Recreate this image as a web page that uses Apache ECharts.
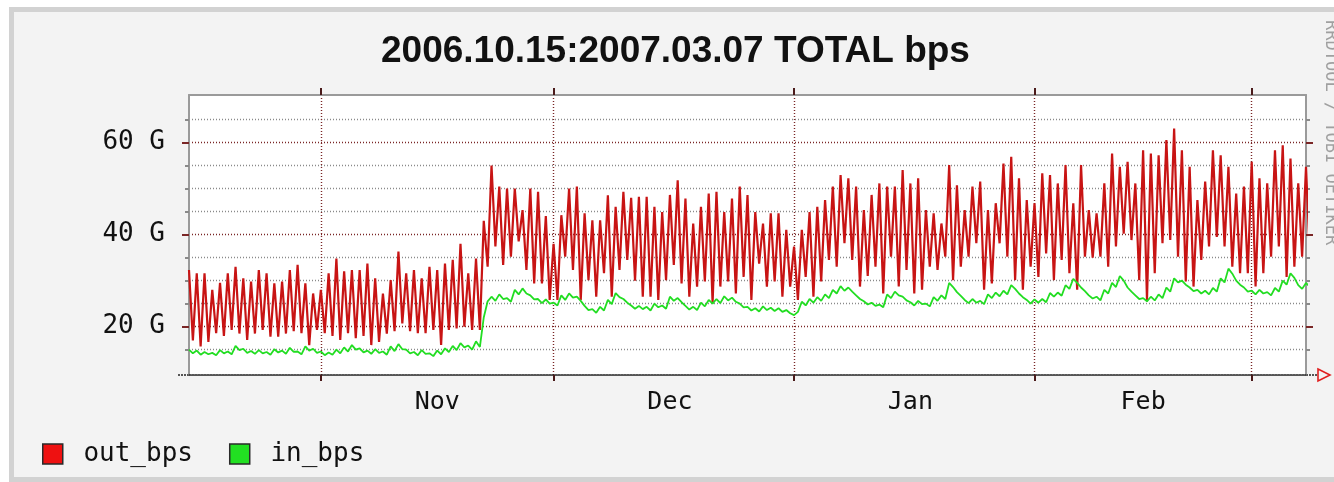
<!DOCTYPE html>
<html><head><meta charset="utf-8">
<script src="https://cdn.jsdelivr.net/npm/echarts@6/dist/echarts.min.js"></script>
<style>html,body{margin:0;padding:0;background:#fff}#c{width:1334px;height:482px}</style>
</head><body><div id="c"></div>
<script>
// ---- data (daily [peak, trough] in G bits/s), one row per day from 2006-10-15 ----
const startDate = '2006-10-15';
const endDate = '2007-03-08';
const outDays = [
 [32.3,17.0],[31.6,15.7],[31.6,16.7],[28.0,18.6],[29.5,18.0],[31.6,19.3],[33.0,18.5],[30.5,17.1],[29.8,18.5],[32.3,19.3],
 [31.6,17.8],[29.4,17.8],[29.8,18.5],[32.3,19.0],[33.4,18.6],[29.4,16.0],[27.2,19.3],[28.0,18.6],[31.6,18.0],[34.8,17.1],
 [32.0,18.6],[32.3,17.5],[32.3,18.0],[33.7,16.0],[30.5,16.7],[27.2,18.5],[30.1,19.0],[36.3,20.7],[31.6,19.0],[32.3,18.6],
 [30.5,18.6],[33.0,19.3],[32.3,16.0],[33.7,19.3],[34.5,19.6],[38.0,20.0],[31.6,19.3],[34.8,19.3],[43.0,33.0],[55.0,37.4],
 [50.4,33.4],[50.0,35.2],[50.0,38.5],[45.3,32.3],[50.0,29.4],[49.3,29.4],[44.0,25.8],[38.0,25.8],[44.2,35.2],[50.0,32.3],
 [50.4,25.8],[44.6,30.1],[43.1,26.5],[43.1,31.6],[48.5,26.5],[46.0,32.3],[49.3,34.5],[48.0,30.0],[48.2,26.5],[48.2,26.5],
 [46.0,25.8],[44.9,30.1],[48.6,33.4],[51.8,29.4],[47.8,26.5],[42.4,28.7],[46.0,29.8],[48.9,25.1],[49.3,28.7],[44.9,29.8],
 [47.8,27.2],[50.4,30.8],[48.6,25.8],[44.9,33.7],[42.4,28.7],[44.6,29.8],[44.6,26.5],[41.0,28.7],[37.4,25.8],[41.0,30.8],
 [44.9,26.5],[46.0,29.8],[47.5,34.5],[50.4,33.0],[52.9,38.1],[52.2,34.5],[50.4,28.7],[45.3,31.0],[48.6,33.0],[51.1,27.2],
 [50.4,35.2],[50.4,28.7],[54.0,32.3],[51.1,27.2],[52.2,28.0],[45.3,33.0],[44.6,32.3],[42.4,35.2],[55.1,30.1],[50.7,33.0],
 [45.3,35.2],[50.4,38.1],[51.5,28.0],[45.3,29.4],[46.8,38.1],[55.4,35.2],[56.9,30.1],[52.2,28.0],[47.5,33.0],[46.8,30.8],
 [53.3,35.9],[52.9,30.1],[51.1,34.5],[55.1,31.6],[46.8,28.0],[55.1,35.2],[45.3,35.0],[44.6,35.2],[51.1,33.0],[57.6,37.4],
 [54.7,40.2],[55.8,38.8],[51.1,30.1],[58.3,25.8],[57.6,31.6],[57.2,38.1],[60.5,38.8],[63.0,35.2],[58.3,29.8],[54.7,28.7],
 [47.5,34.5],[51.5,37.4],[58.3,39.5],[57.2,37.4],[54.7,33.0],[48.9,31.6],[50.4,31.6],[55.8,28.7],[52.2,31.6],[51.1,35.2],
 [58.3,37.4],[59.4,30.8],[56.5,33.0],[51.1,35.2],[54.7,35.2]
];
const inDays = [
 [15.0,14.2],[14.8,13.9],[14.5,14.0],[14.3,13.8],[14.9,14.2],[14.6,14.0],[15.8,14.9],[15.2,14.3],[14.7,14.1],[14.9,14.2],
 [14.5,13.9],[15.1,14.4],[14.8,14.1],[15.4,14.5],[14.6,14.0],[15.7,14.8],[15.2,14.3],
 [14.6,13.8],[14.4,13.9],[15.0,14.2],[15.5,14.6],[16.0,15.0],[15.3,14.4],[14.8,14.1],[15.1,14.3],[14.6,13.9],[15.7,14.7],
 [16.2,15.1],[15.0,14.2],[14.5,13.8],[14.9,14.1],[14.2,13.6],[14.8,14.0],[15.3,14.5],[15.8,14.9],[16.4,15.5],[15.9,15.0],[16.8,15.6],
 [22.0,25.5],
 [26.5,25.6],[27.0,26.0],[26.2,25.4],[28.0,27.0],[28.3,27.2],[26.8,25.9],[26.0,25.1],[25.9,25.0],
 [25.2,24.6],[26.8,25.8],[27.2,26.3],[26.5,25.6],[24.5,23.6],[23.8,23.0],[24.3,23.5],[25.8,24.9],[27.3,26.4],[26.0,25.2],[24.6,23.9],
 [24.5,23.8],[24.3,23.5],[25.0,24.2],[24.6,23.9],[26.5,25.6],[26.2,25.3],[24.5,23.7],[24.3,23.6],[25.2,24.4],[25.8,25.0],
 [26.0,25.1],[26.6,25.7],[26.3,25.4],[25.0,24.2],[24.3,23.5],[24.0,23.3],[24.4,23.6],[24.1,23.4],[24.0,23.2],[23.6,22.9],
 [22.5,23.2],[25.4,24.6],[26.0,25.2],[26.4,25.6],[27.0,26.2],[28.0,27.2],[28.8,27.8],[28.5,27.6],[26.8,26.0],[25.5,24.8],
 [25.2,24.5],[24.8,24.2],[27.0,26.2],[27.6,26.8],[26.5,25.7],[25.3,24.6],[25.6,24.9],[25.0,24.4],[26.4,25.6],[26.8,26.0],
 [29.5,28.6],[27.5,26.7],[25.8,25.1],[26.0,25.2],[25.6,24.9],[27.0,26.2],[27.4,26.6],[27.8,27.0],[29.0,28.2],[27.2,26.4],
 [25.8,25.0],[25.9,25.2],[26.0,25.3],[27.3,26.5],[27.4,26.7],[29.0,28.2],[30.4,29.5],[28.5,27.7],[26.8,26.1],
 [26.5,25.7],[28.0,27.2],[29.5,28.6],[31.0,30.0],[28.5,27.6],[26.8,26.0],[26.2,25.5],[26.5,25.7],[27.0,26.2],[28.5,27.6],
 [30.5,29.6],[30.0,29.1],[28.5,27.7],[28.0,27.2],[27.8,27.0],[28.4,27.6],[30.5,29.6],[32.6,31.5],[30.0,29.1],[28.5,27.6],
 [27.8,27.0],[28.0,27.2],[27.5,26.8],[28.4,27.6],[30.0,29.1],[31.6,30.6],[29.0,28.2],[29.5,28.6]
];
const monthGridDates = ['2006-11-01','2006-12-01','2007-01-01','2007-02-01','2007-03-01'];
const monthLabelDates = ['2006-11-16','2006-12-16','2007-01-16','2007-02-15'];
const monthLabels = ['Nov','Dec','Jan','Feb'];
const yMajorTicks = [20,40,60];
const yMinorTicks = [15,25,30,35,45,50,55,65];
const titleText = '2006.10.15:2007.03.07 TOTAL bps';

// ---- build ----
const DAY = 86400000;
const ts = s => Date.parse(s + 'T00:00:00Z');
const t0 = ts(startDate);
function flatten(rows){
  const out = [];
  rows.forEach((r,i)=>{ out.push([t0 + i*DAY, r[0]]); out.push([t0 + i*DAY + DAY/2, r[1]]); });
  return out;
}
const outData = flatten(outDays);
const inData = flatten(inDays);
const gridTs = monthGridDates.map(ts);
const labelTs = monthLabelDates.map(ts);
const yMin = 9.5, yMax = 70.3;
const MONO = 'DejaVu Sans Mono';
const majorCol = '#7a2626';
const minorCol = '#8a8a8a';

const chart = echarts.init(document.getElementById('c'), null, {renderer:'canvas'});
const baseY = {type:'value', min:yMin, max:yMax};
const baseX = {type:'value', min:t0, max:ts(endDate)};
chart.setOption({
  animation:false,
  backgroundColor:'#f3f3f3',
  title:{text:titleText, left:376, top:28,
    textStyle:{fontFamily:'Liberation Sans', fontWeight:'bold', fontSize:37, color:'#111'}},
  grid:{left:189, right:28, top:95, bottom:107, show:true, backgroundColor:'#ffffff', borderWidth:0},
  legend:{left:42, top:441, padding:0, icon:'rect', itemWidth:20, itemHeight:20, itemGap:36,
    formatter:' {name}',
    itemStyle:{borderColor:'#2a2a2a', borderWidth:1.5},
    textStyle:{fontFamily:MONO, fontSize:26, color:'#111'}},
  xAxis:[
    Object.assign({}, baseX, {position:'bottom',
     axisLine:{show:true, lineStyle:{color:'#222', width:1.5, type:[2,1]}},
     axisTick:{show:true, customValues:gridTs, length:6, lineStyle:{color:'#4a1a1a', width:2}},
     axisLabel:{show:true, customValues:labelTs, margin:15,
       formatter:v=>{ const i = labelTs.indexOf(v); return i>=0 ? monthLabels[i] : ''; },
       fontFamily:MONO, fontSize:25, color:'#111'},
     splitLine:{show:true, lineStyle:{color:majorCol, width:1.4, type:[1,2]}}}),
    Object.assign({}, baseX, {position:'top',
     axisLine:{show:true, lineStyle:{color:'#9a9a9a', width:2}},
     axisTick:{show:true, customValues:gridTs, length:7, lineStyle:{color:'#4a1a1a', width:2}},
     axisLabel:{show:false}, splitLine:{show:false}})
  ],
  yAxis:[
    Object.assign({}, baseY, {position:'left',
      axisLine:{show:true, lineStyle:{color:'#9a9a9a', width:2}},
      axisTick:{show:true, customValues:yMinorTicks, length:4, lineStyle:{color:minorCol, width:2}},
      axisLabel:{show:false},
      splitLine:{show:true, lineStyle:{color:minorCol, width:1.3, type:[1,2]}}}),
    Object.assign({}, baseY, {position:'left',
      axisLine:{show:false},
      axisTick:{show:true, customValues:yMajorTicks, length:7, lineStyle:{color:majorCol, width:2}},
      axisLabel:{show:true, customValues:yMajorTicks, margin:24, formatter:v=>v+' G',
        fontFamily:MONO, fontSize:26, color:'#111'},
      splitLine:{show:true, lineStyle:{color:majorCol, width:1.4, type:[1,2]}}}),
    Object.assign({}, baseY, {position:'right',
      axisLine:{show:true, lineStyle:{color:'#9a9a9a', width:2}},
      axisTick:{show:true, customValues:yMinorTicks, length:4, lineStyle:{color:minorCol, width:2}},
      axisLabel:{show:false}, splitLine:{show:false}}),
    Object.assign({}, baseY, {position:'right',
      axisLine:{show:false},
      axisTick:{show:true, customValues:yMajorTicks, length:7, lineStyle:{color:majorCol, width:2}},
      axisLabel:{show:false}, splitLine:{show:false}})
  ],
  series:[
    {name:'out_bps', type:'line', xAxisIndex:0, yAxisIndex:0, data:outData, showSymbol:false,
     color:'#ee1111', lineStyle:{color:'#c81414', width:2.2}, z:3},
    {name:'in_bps', type:'line', xAxisIndex:0, yAxisIndex:0, data:inData, showSymbol:false,
     color:'#22e022', lineStyle:{color:'#22dd22', width:1.8}, z:4}
  ],
  graphic:[
    {type:'rect', silent:true, shape:{x:0,y:0,width:9,height:482}, style:{fill:'#ffffff'}},
    {type:'rect', silent:true, shape:{x:0,y:0,width:1334,height:7}, style:{fill:'#ffffff'}},
    {type:'rect', silent:true, shape:{x:11.5,y:9.5,width:1400,height:470}, style:{fill:null, stroke:'#d2d2d2', lineWidth:5}},
    {type:'line', silent:true, shape:{x1:178,y1:375,x2:189,y2:375}, style:{stroke:'#222', lineWidth:1.5, lineDash:[2,1]}},
    {type:'line', silent:true, shape:{x1:1306,y1:375,x2:1318,y2:375}, style:{stroke:'#222', lineWidth:1.5, lineDash:[2,1]}},
    {type:'polygon', silent:true, shape:{points:[[1318,369],[1330,375],[1318,381]]}, style:{fill:null, stroke:'#e02020', lineWidth:1.6}},
    {type:'text', silent:true, x:1322, y:20, rotation:-Math.PI/2,
     style:{text:'RRDTOOL / TOBI OETIKER', font:'17px "DejaVu Sans Mono"', fill:'#a0a0a0', textAlign:'left', textVerticalAlign:'bottom'}}
  ]
});
</script></body></html>
